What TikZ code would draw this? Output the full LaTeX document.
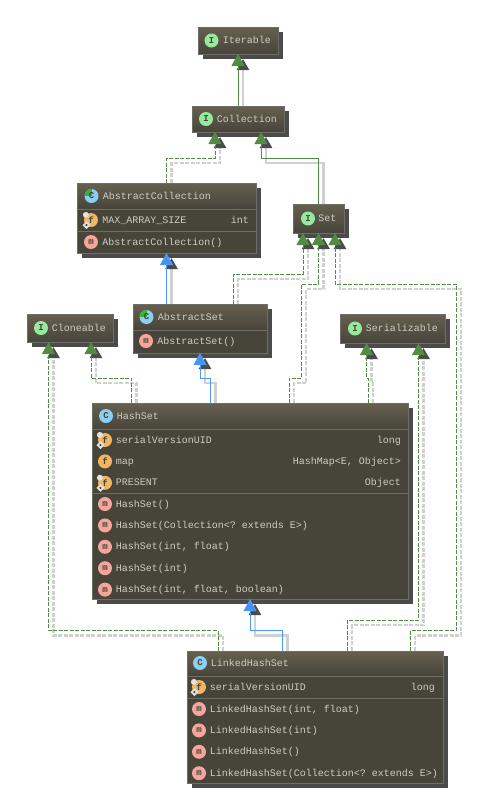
\documentclass[tikz,border=0pt]{standalone}
\usepackage{fontspec}
\setmonofont{Liberation Mono}
\usepackage{tikz}
\usetikzlibrary{positioning}
\usetikzlibrary{calc}
\usetikzlibrary{arrows.meta}
\usetikzlibrary{shadows}
\usetikzlibrary{backgrounds}

\definecolor{BoxBody}{HTML}{47443A}
\definecolor{BoxTop}{HTML}{66604F}
\definecolor{BoxEdge}{HTML}{6E6E68}
\definecolor{BoxText}{HTML}{CFCDC2}
\definecolor{BoxShadow}{HTML}{4B4B4B}
\definecolor{LinkGreen}{HTML}{4F8F3F}
\definecolor{TipGreen}{HTML}{548A46}
\definecolor{LinkBlue}{HTML}{4A9BFF}
\definecolor{TipBlue}{HTML}{4A90F0}
\definecolor{LinkShadow}{HTML}{D0D0D0}
\definecolor{IconI}{HTML}{96E89C}
\definecolor{IconC}{HTML}{8CCDF2}
\definecolor{IconAbstract}{HTML}{38B238}
\definecolor{IconF}{HTML}{F0B664}
\definecolor{IconM}{HTML}{F5A59C}
\definecolor{StaticMark}{HTML}{E4E2DC}

\tikzset{
	umlbox/.style={
		draw=BoxEdge,
		line width=1pt,
		fill=BoxBody,
		inner sep=0pt,
		outer sep=0pt,
		general shadow={fill=BoxShadow, shadow xshift=5pt, shadow yshift=-5pt}
	},
	singlebox/.style={
		umlbox,
		top color=BoxTop,
		bottom color=BoxBody
	},
	headbox/.style={
		draw=BoxEdge,
		line width=0.8pt,
		top color=BoxTop,
		bottom color=BoxBody,
		inner sep=0pt,
		outer sep=0pt,
		anchor=north
	},
	divider/.style={draw=BoxEdge, line width=0.8pt},
	icon/.style={
		circle,
		minimum size=14pt,
		inner sep=0pt,
		text=BoxBody,
		font=\ttfamily\bfseries\fontsize{9}{10}\selectfont
	},
	ifaceicon/.style={icon, fill=IconI},
	classicon/.style={icon, fill=IconC},
	abstracticon/.style={
		icon,
		fill=IconC,
		path picture={
			\fill[IconAbstract] (path picture bounding box.center) rectangle (path picture bounding box.north west);
		}
	},
	fieldicon/.style={icon, fill=IconF},
	methodicon/.style={icon, fill=IconM},
	boxtext/.style={
		inner sep=0pt,
		text=BoxText,
		text height=7pt,
		text depth=1pt,
		font=\ttfamily\fontsize{10}{12}\selectfont
	},
	typetext/.style={boxtext, anchor=east},
	extendsgreen/.style={
		draw=LinkGreen,
		line width=1pt,
		-{Triangle[length=12pt, width=13pt, fill=TipGreen]}
	},
	implementsgreen/.style={extendsgreen, dash pattern=on 4pt off 1.5pt},
	extendsblue/.style={
		draw=LinkBlue,
		line width=1pt,
		-{Triangle[length=12pt, width=13pt, fill=TipBlue]}
	},
	linkshadow/.style={
		draw=LinkShadow,
		line width=2.5pt,
		-{Triangle[length=11pt, width=12pt, color=BoxShadow]},
		transform canvas={shift={(5pt,-5pt)}}
	}
}

% line on top, its shadow on the background layer
\newcommand{\connector}[2]{
	\begin{scope}[on background layer]
		\draw[#1, linkshadow] #2;
	\end{scope}
	\draw[#1] #2;
}
\newcommand{\staticmark}[1]{
	\fill[StaticMark] ($(#1.north west)+(0,0)$) circle (3pt);
	\fill[StaticMark] ($(#1.south west)+(0.5,-4)$) -- ++(4,4) -- ++(-4,4) -- ++(-4,-4) -- cycle;
	\fill[BoxBody] ($(#1.south west)+(0.5,0)$) circle (1.2pt);
}

\begin{document}
\begin{tikzpicture}[x=1pt, y=-1pt]
	\useasboundingbox (0,0) rectangle (484,812);
	
	\node[singlebox, minimum width=80pt, minimum height=27pt] (Iterable) at (238,40.5) {};
	\node[ifaceicon] (Iterable-i) at ($(Iterable.west)+(13.5,0)$) {I};
	\node[boxtext, right=4pt of Iterable-i] (Iterable-t) {Iterable};
	
	% ---
	
	\node[singlebox, minimum width=92pt, minimum height=26pt, below=52pt of Iterable] (Collection) {};
	\node[ifaceicon] (Collection-i) at ($(Collection.west)+(14,0)$) {I};
	\node[boxtext, right=3.5pt of Collection-i] (Collection-t) {Collection};
	
	% ---
	
	\node[singlebox, minimum width=51pt, minimum height=29pt, below=72pt of Collection, xshift=80.5pt] (Set) {};
	\node[ifaceicon] (Set-i) at ($(Set.west)+(15,0)$) {I};
	\node[boxtext, right=3pt of Set-i] (Set-t) {Set};
	
	% ---
	
	\node[umlbox, minimum width=179pt, minimum height=70pt, below=51pt of Collection, xshift=-71.5pt] (AbstractCollection) {};
	\node[headbox, minimum width=179pt, minimum height=26pt] (AC-head) at (AbstractCollection.north) {};
	\node[abstracticon] (AC-i) at ($(AbstractCollection.north west)+(14.5,13)$) {C};
	\node[boxtext, right=4pt of AC-i] (AC-t) {AbstractCollection};
	\node[fieldicon] (AC-f) at ($(AbstractCollection.north west)+(14,37)$) {f};
	\node[boxtext, right=4pt of AC-f] (AC-f-t) {MAX\_ARRAY\_SIZE};
	\node[typetext] (AC-f-y) at ($(AbstractCollection.east |- AC-f)+(-7,0)$) {int};
	\draw[divider] ($(AbstractCollection.north west)+(0,48)$) -- ($(AbstractCollection.north east)+(0,48)$);
	\node[methodicon] (AC-m) at ($(AbstractCollection.north west)+(14,59)$) {m};
	\node[boxtext, right=4pt of AC-m] (AC-m-t) {AbstractCollection()};
	\staticmark{AC-f}
	
	% ---
	
	\node[umlbox, minimum width=134pt, minimum height=49pt, below=51pt of AbstractCollection, xshift=33.5pt] (AbstractSet) {};
	\node[headbox, minimum width=134pt, minimum height=26pt] (AS-head) at (AbstractSet.north) {};
	\node[abstracticon] (AS-i) at ($(AbstractSet.north west)+(13.5,13)$) {C};
	\node[boxtext, right=4pt of AS-i] (AS-t) {AbstractSet};
	\node[methodicon] (AS-m) at ($(AbstractSet.north west)+(13,37)$) {m};
	\node[boxtext, right=4pt of AS-m] (AS-m-t) {AbstractSet()};
	
	% ---
	
	\node[singlebox, minimum width=86pt, minimum height=28pt, below=61pt of AbstractCollection, xshift=-96.5pt] (Cloneable) {};
	\node[ifaceicon] (Cloneable-i) at ($(Cloneable.west)+(14,0)$) {I};
	\node[boxtext, right=3.5pt of Cloneable-i] (Cloneable-t) {Cloneable};
	
	\node[singlebox, minimum width=105pt, minimum height=29pt, below=81pt of Set, xshift=74pt] (Serializable) {};
	\node[ifaceicon] (Serializable-i) at ($(Serializable.west)+(15,0)$) {I};
	\node[boxtext, right=3.5pt of Serializable-i] (Serializable-t) {Serializable};
	
	% ---
	
	\node[umlbox, minimum width=316pt, minimum height=196pt, below=50pt of AbstractSet, xshift=50pt] (HashSet) {};
	\node[headbox, minimum width=316pt, minimum height=26pt] (HS-head) at (HashSet.north) {};
	\node[classicon] (HS-i) at ($(HashSet.north west)+(14,13)$) {C};
	\node[boxtext, right=3.5pt of HS-i] (HS-t) {HashSet};
	\node[fieldicon] (HS-f1) at ($(HashSet.north west)+(13,37)$) {f};
	\node[fieldicon, below=7pt of HS-f1] (HS-f2) {f};
	\node[fieldicon, below=7pt of HS-f2] (HS-f3) {f};
	\node[boxtext, right=3.5pt of HS-f1] (HS-f1-t) {serialVersionUID};
	\node[boxtext, right=3.5pt of HS-f2] (HS-f2-t) {map};
	\node[boxtext, right=3.5pt of HS-f3] (HS-f3-t) {PRESENT};
	\node[typetext] (HS-f1-y) at ($(HashSet.east |- HS-f1)+(-7,0)$) {long};
	\node[typetext] (HS-f2-y) at ($(HashSet.east |- HS-f2)+(-7,0)$) {HashMap<E, Object>};
	\node[typetext] (HS-f3-y) at ($(HashSet.east |- HS-f3)+(-7,0)$) {Object};
	\draw[divider] ($(HashSet.north west)+(0,90)$) -- ($(HashSet.north east)+(0,90)$);
	\node[methodicon] (HS-m1) at ($(HashSet.north west)+(13,101)$) {m};
	\node[methodicon, below=7pt of HS-m1] (HS-m2) {m};
	\node[methodicon, below=7pt of HS-m2] (HS-m3) {m};
	\node[methodicon, below=7pt of HS-m3] (HS-m4) {m};
	\node[methodicon, below=7pt of HS-m4] (HS-m5) {m};
	\node[boxtext, right=3.5pt of HS-m1] (HS-m1-t) {HashSet()};
	\node[boxtext, right=3.5pt of HS-m2] (HS-m2-t) {HashSet(Collection<? extends E>)};
	\node[boxtext, right=3.5pt of HS-m3] (HS-m3-t) {HashSet(int, float)};
	\node[boxtext, right=3.5pt of HS-m4] (HS-m4-t) {HashSet(int)};
	\node[boxtext, right=3.5pt of HS-m5] (HS-m5-t) {HashSet(int, float, boolean)};
	\staticmark{HS-f1}
	\staticmark{HS-f3}
	
	% ---
	
	\node[umlbox, minimum width=256pt, minimum height=132pt, below=52pt of HashSet, xshift=65pt] (LinkedHashSet) {};
	\node[headbox, minimum width=256pt, minimum height=25pt] (LHS-head) at (LinkedHashSet.north) {};
	\node[classicon] (LHS-i) at ($(LinkedHashSet.north west)+(13,12)$) {C};
	\node[boxtext, right=3.5pt of LHS-i] (LHS-t) {LinkedHashSet};
	\node[fieldicon] (LHS-f) at ($(LinkedHashSet.north west)+(12,36)$) {f};
	\node[boxtext, right=3.5pt of LHS-f] (LHS-f-t) {serialVersionUID};
	\node[typetext] (LHS-f-y) at ($(LinkedHashSet.east |- LHS-f)+(-8,0)$) {long};
	\draw[divider] ($(LinkedHashSet.north west)+(0,47)$) -- ($(LinkedHashSet.north east)+(0,47)$);
	\node[methodicon] (LHS-m1) at ($(LinkedHashSet.north west)+(12,58)$) {m};
	\node[methodicon, below=7pt of LHS-m1] (LHS-m2) {m};
	\node[methodicon, below=7pt of LHS-m2] (LHS-m3) {m};
	\node[methodicon, below=7pt of LHS-m3] (LHS-m4) {m};
	\node[boxtext, right=3.5pt of LHS-m1] (LHS-m1-t) {LinkedHashSet(int, float)};
	\node[boxtext, right=3.5pt of LHS-m2] (LHS-m2-t) {LinkedHashSet(int)};
	\node[boxtext, right=3.5pt of LHS-m3] (LHS-m3-t) {LinkedHashSet()};
	\node[boxtext, right=3.5pt of LHS-m4] (LHS-m4-t) {LinkedHashSet(Collection<? extends E>)};
	\staticmark{LHS-f}
	
	% ---
	
	\connector{extendsgreen}{(Collection.north) -- (Iterable.south)}
	\connector{implementsgreen}{(AbstractCollection.north) -- ++(0,-25) -| ($(Collection.south)+(-23,0)$)}
	\connector{extendsgreen}{(Set.north) -- ++(0,-46) -| ($(Collection.south)+(23,0)$)}
	\connector{extendsblue}{($(AbstractSet.north)+(-33.5,0)$) -- (AbstractCollection.south)}
	\connector{implementsgreen}{($(AbstractSet.north)+(33,0)$) -- ++(0,-30) -| ($(Set.south)+(-15.5,0)$)}
	
	\connector{extendsblue}{($(HashSet.north)+(-39.5,0)$) -- ++(0,-25) -| (AbstractSet.south)}
	\connector{implementsgreen}{($(HashSet.north)+(-118.5,0)$) -- ++(0,-25) -| ($(Cloneable.south)+(21,0)$)}
	\connector{implementsgreen}{($(HashSet.north)+(39,0)$) -- ++(0,-25) -- ++(12,0) -- ++(0,-94) -| (Set.south)}
	\connector{implementsgreen}{($(HashSet.north)+(118,0)$) -- ++(0,-25) -| ($(Serializable.south)+(-26,0)$)}
	
	\connector{extendsblue}{($(LinkedHashSet.north)+(-32.5,0)$) -- ++(0,-20.5) -| (HashSet.south)}
	\connector{implementsgreen}{($(LinkedHashSet.north)+(-97,0)$) -- ++(0,-20.5) -| ($(Cloneable.south)+(-21.5,0)$)}
	\connector{implementsgreen}{($(LinkedHashSet.north)+(32,0)$) -- ++(0,-31) -| ($(Serializable.south)+(26,0)$)}
	\connector{implementsgreen}{($(LinkedHashSet.north)+(95,0)$) -- ++(0,-20.5) -- ++(46,0) -- ++(0,-346.5) -| ($(Set.south)+(16.5,0)$)}
\end{tikzpicture}
\end{document}
